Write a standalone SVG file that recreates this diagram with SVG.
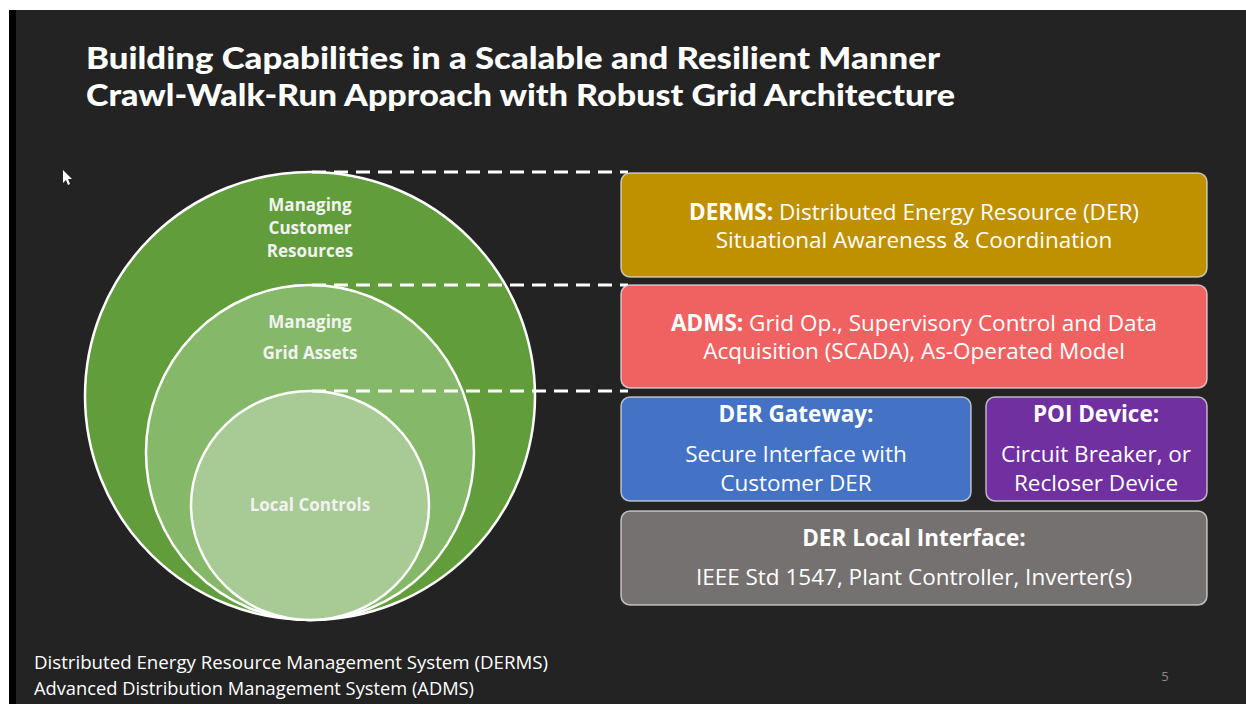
<svg xmlns="http://www.w3.org/2000/svg" width="1246" height="704" viewBox="0 0 1246 704">
<style>
.title{font-family:"Lato","Inter","Liberation Sans",sans-serif;font-weight:900;font-size:31px;fill:#ffffff}
.clab{font-family:"Open Sans","Noto Sans","Liberation Sans",sans-serif;font-weight:700;font-size:17px;fill:#f2f2f2;text-anchor:middle}
.bt{font-family:"Open Sans","Noto Sans","Liberation Sans",sans-serif;font-size:22.5px;fill:#ffffff;text-anchor:middle}
.b{font-weight:700}
.foot{font-family:"Open Sans","Noto Sans","Liberation Sans",sans-serif;font-size:17.5px;fill:#ffffff}
.box{stroke:#e6e6e6;stroke-opacity:0.75;stroke-width:1.5}
.ring{stroke:#ffffff;stroke-width:2.5}
.dash{stroke:#ffffff;stroke-width:3;stroke-dasharray:14 8;fill:none}
</style>
<rect x="0" y="0" width="1246" height="704" fill="#232323"/>
<rect x="0" y="0" width="1246" height="10" fill="#ffffff"/>
<rect x="0" y="0" width="9" height="704" fill="#ffffff"/>
<rect x="9" y="10" width="7" height="694" fill="#000000"/>

<g id="title">
<text class="title" x="86" y="69" textLength="854" lengthAdjust="spacingAndGlyphs">Building Capabilities in a Scalable and Resilient Manner</text>
<text class="title" x="86" y="106" textLength="869" lengthAdjust="spacingAndGlyphs">Crawl-Walk-Run Approach with Robust Grid Architecture</text>
</g>

<polygon id="cursor" points="63,170 63,183 66,180 68,185 70,184 68,179 72,179" fill="#ffffff"/>

<g id="outer-circle">
<ellipse class="ring" cx="310" cy="396" rx="225" ry="224" fill="#629d3c"/>
<text class="clab" x="310" y="211">Managing</text>
<text class="clab" x="310" y="234">Customer</text>
<text class="clab" x="310" y="257">Resources</text>
</g>
<g id="middle-circle">
<ellipse class="ring" cx="310" cy="452.5" rx="164" ry="167.5" fill="#86b86a"/>
<text class="clab" x="310" y="328">Managing</text>
<text class="clab" x="310" y="359">Grid Assets</text>
</g>
<g id="inner-circle">
<ellipse class="ring" cx="310" cy="505.5" rx="119" ry="114.5" fill="#a8cb95"/>
<text class="clab" x="310" y="511">Local Controls</text>
</g>

<g id="connectors">
<line class="dash" x1="312" y1="172" x2="628" y2="172"/>
<line class="dash" x1="312" y1="285" x2="628" y2="285"/>
<line class="dash" x1="312" y1="391" x2="628" y2="391"/>
</g>

<g id="derms">
<rect class="box" x="621" y="173" width="586" height="104" rx="9" fill="#bf9000"/>
<text class="bt" x="914" y="220"><tspan class="b">DERMS:</tspan> Distributed Energy Resource (DER)</text>
<text class="bt" x="914" y="248">Situational Awareness &amp; Coordination</text>
</g>
<g id="adms">
<rect class="box" x="621" y="285" width="586" height="103" rx="9" fill="#f06262"/>
<text class="bt" x="914" y="331"><tspan class="b">ADMS:</tspan> Grid Op., Supervisory Control and Data</text>
<text class="bt" x="914" y="359">Acquisition (SCADA), As-Operated Model</text>
</g>
<g id="der-gateway">
<rect class="box" x="621" y="397" width="350" height="104" rx="9" fill="#4472c4"/>
<text class="bt b" x="796" y="422">DER Gateway:</text>
<text class="bt" x="796" y="462">Secure Interface with</text>
<text class="bt" x="796" y="491">Customer DER</text>
</g>
<g id="poi-device">
<rect class="box" x="986" y="397" width="221" height="104" rx="9" fill="#7030a0"/>
<text class="bt b" x="1096" y="422">POI Device:</text>
<text class="bt" x="1096" y="462">Circuit Breaker, or</text>
<text class="bt" x="1096" y="491">Recloser Device</text>
</g>
<g id="der-local">
<rect class="box" x="621" y="511" width="586" height="94" rx="9" fill="#767171"/>
<text class="bt b" x="914" y="546">DER Local Interface:</text>
<text class="bt" x="914" y="585">IEEE Std 1547, Plant Controller, Inverter(s)</text>
</g>

<g id="footer">
<text class="foot" x="34" y="669" textLength="514" lengthAdjust="spacingAndGlyphs">Distributed Energy Resource Management System (DERMS)</text>
<text class="foot" x="34" y="695" textLength="440" lengthAdjust="spacingAndGlyphs">Advanced Distribution Management System (ADMS)</text>
<text x="1165" y="681" font-family="Open Sans, Liberation Sans, sans-serif" font-size="13" fill="#8a8a8a" text-anchor="middle">5</text>
</g>
</svg>
